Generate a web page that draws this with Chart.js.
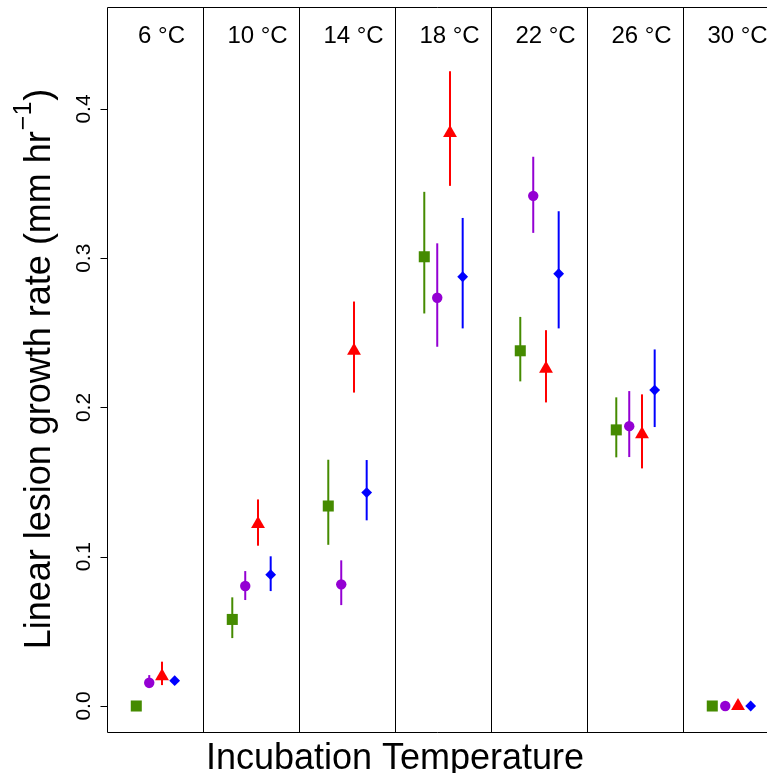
<!DOCTYPE html>
<html>
<head>
<meta charset="utf-8">
<script src="https://cdn.jsdelivr.net/npm/chart.js@4/dist/chart.umd.min.js"></script>
<style>
html,body{margin:0;padding:0;background:#fff;overflow:hidden;}
canvas{display:block;}
</style>
</head>
<body>
<canvas id="c" width="767" height="773"></canvas>
<script>
// ---- data ----
const categories = ['6 °C','10 °C','14 °C','18 °C','22 °C','26 °C','30 °C'];

const greenMean = [0.000, 0.058, 0.134, 0.301, 0.238, 0.185, 0.000];
const greenLo   = [0.000, 0.0455, 0.108, 0.263, 0.2175, 0.1666, 0.000];
const greenHi   = [0.000, 0.0728, 0.165, 0.3445, 0.2607, 0.2068, 0.000];

const purpleMean = [0.0156, 0.0804, 0.0815, 0.2735, 0.3418, 0.1875, 0.000];
const purpleLo   = [0.012, 0.071, 0.0676, 0.2407, 0.317, 0.1668, 0.000];
const purpleHi   = [0.0207, 0.0904, 0.0976, 0.310, 0.368, 0.211, 0.000];

const redMean = [0.020, 0.122, 0.238, 0.384, 0.226, 0.182, 0.000];
const redLo   = [0.014, 0.1074, 0.210, 0.3485, 0.2034, 0.1592, 0.000];
const redHi   = [0.0297, 0.1384, 0.271, 0.4253, 0.2518, 0.2088, 0.000];

const blueMean = [0.017, 0.088, 0.143, 0.2876, 0.2896, 0.2117, 0.000];
const blueLo   = [0.017, 0.077, 0.1244, 0.253, 0.253, 0.1869, 0.000];
const blueHi   = [0.017, 0.1003, 0.1648, 0.327, 0.3315, 0.2389, 0.000];

const yTicks = [0, 0.1, 0.2, 0.3, 0.4];
const yTickLabels = ['0.0', '0.1', '0.2', '0.3', '0.4'];

const yTitle = 'Linear lesion growth rate (mm hr';
const yTitleSup = '\u22121';
const yTitleEnd = ')';
const xTitle = 'Incubation Temperature';

// ---- styling / layout ----
const FONT = '"Liberation Sans", Arimo, Helvetica, Arial, sans-serif';
const series = [
  {mean: greenMean, lo: greenLo, hi: greenHi, color: '#458B00', style: 'rect', r: 7.8, off: 0.305},
  {mean: purpleMean, lo: purpleLo, hi: purpleHi, color: '#9400D3', style: 'circle', r: 5.2, off: 0.44},
  {mean: redMean, lo: redLo, hi: redHi, color: '#FF0000', style: 'triangle', r: 8, off: 0.573},
  {mean: blueMean, lo: blueLo, hi: blueHi, color: '#0000FF', style: 'rectRot', r: 5.4, off: 0.705}
];

const datasets = series.map(s => ({
  data: s.mean.map((v, i) => ({x: i + s.off, y: v})),
  backgroundColor: s.color,
  borderColor: s.color,
  borderWidth: 0,
  pointStyle: s.style,
  pointRadius: s.r,
  pointHoverRadius: s.r,
  showLine: false
}));

const decor = {
  id: 'decor',
  beforeDatasetsDraw(chart) {
    const ctx = chart.ctx, xs = chart.scales.x, ys = chart.scales.y;
    ctx.save();
    ctx.lineWidth = 2;
    series.forEach(s => {
      ctx.strokeStyle = s.color;
      s.mean.forEach((v, i) => {
        if (s.hi[i] - s.lo[i] <= 0) return;
        const px = xs.getPixelForValue(i + s.off);
        ctx.beginPath();
        ctx.moveTo(px, ys.getPixelForValue(s.lo[i]));
        ctx.lineTo(px, ys.getPixelForValue(s.hi[i]));
        ctx.stroke();
      });
    });
    ctx.restore();
  },
  afterDraw(chart) {
    const ctx = chart.ctx, xs = chart.scales.x, ys = chart.scales.y, a = chart.chartArea;
    ctx.save();
    ctx.strokeStyle = '#000';
    ctx.lineWidth = 1;
    const snap = v => Math.round(v) + 0.5;
    const top = snap(a.top), bot = snap(a.bottom);
    const right = chart.width + 2;
    ctx.beginPath();
    const left = snap(xs.getPixelForValue(0));
    ctx.moveTo(right, top); ctx.lineTo(left, top); ctx.lineTo(left, bot); ctx.lineTo(right, bot);
    for (let i = 1; i < categories.length; i++) {
      const px = snap(xs.getPixelForValue(i));
      ctx.moveTo(px, top); ctx.lineTo(px, bot);
    }
    yTicks.forEach(t => {
      const py = snap(ys.getPixelForValue(t));
      ctx.moveTo(left, py); ctx.lineTo(left - 7, py);
    });
    ctx.stroke();

    ctx.fillStyle = '#000';
    ctx.font = '21px ' + FONT;
    ctx.textAlign = 'center';
    ctx.textBaseline = 'alphabetic';
    yTicks.forEach((t, k) => {
      const py = ys.getPixelForValue(t);
      ctx.save();
      ctx.translate(90, py);
      ctx.rotate(-Math.PI / 2);
      ctx.fillText(yTickLabels[k], 0, 0);
      ctx.restore();
    });

    ctx.font = '24px ' + FONT;
    categories.forEach((c, i) => {
      const px = xs.getPixelForValue(i + 0.568);
      ctx.fillText(c, px, 43);
    });

    ctx.font = '36px ' + FONT;
    ctx.fillText(xTitle, 395, 769);

    ctx.save();
    ctx.translate(50, 369);
    ctx.rotate(-Math.PI / 2);
    ctx.textAlign = 'left';
    const mainFont = '36px ' + FONT, supFont = '25px ' + FONT;
    ctx.font = mainFont; const w1 = ctx.measureText(yTitle).width; const w3 = ctx.measureText(yTitleEnd).width;
    ctx.font = supFont; const w2 = ctx.measureText(yTitleSup).width;
    const total = w1 + w2 + w3 + 2;
    const x0 = -total / 2;
    ctx.font = mainFont; ctx.fillText(yTitle, x0, 0);
    ctx.font = supFont; ctx.fillText(yTitleSup, x0 + w1 + 1, -19);
    ctx.font = mainFont; ctx.fillText(yTitleEnd, x0 + w1 + w2 + 2, 0);
    ctx.restore();

    ctx.restore();
  }
};

new Chart(document.getElementById('c'), {
  type: 'scatter',
  data: {datasets},
  options: {
    responsive: false,
    devicePixelRatio: 1,
    animation: false,
    events: [],
    layout: {autoPadding: false, padding: {left: 107, top: 7, right: 0, bottom: 41}},
    plugins: {legend: {display: false}, tooltip: {enabled: false}},
    scales: {
      x: {type: 'linear', min: 0, max: 6.875, display: false},
      y: {type: 'linear', min: -0.01742, max: 0.46834, display: false}
    }
  },
  plugins: [decor]
});
</script>
</body>
</html>
